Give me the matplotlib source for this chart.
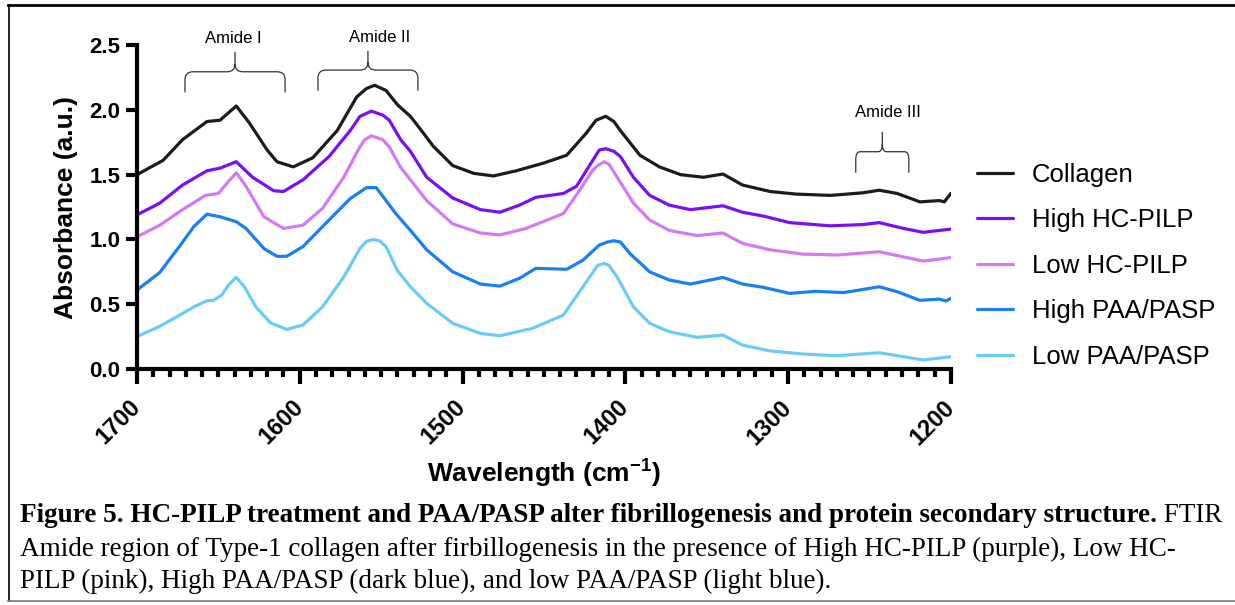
import matplotlib
matplotlib.use("Agg")
import matplotlib.pyplot as plt
from matplotlib.path import Path
from matplotlib.patches import PathPatch
from matplotlib.lines import Line2D
from matplotlib.ticker import MultipleLocator

plt.rcParams['font.family'] = ['Liberation Sans', 'DejaVu Sans']
plt.rcParams['mathtext.fontset'] = 'custom'
plt.rcParams['mathtext.rm'] = 'Liberation Sans'
plt.rcParams['mathtext.bf'] = 'Liberation Sans:bold'

# FTIR spectra (wavenumber in cm-1, absorbance in a.u.)
collagen_x = [1700, 1684, 1672, 1657, 1649, 1639, 1631, 1620, 1614, 1604, 1592, 1577, 1565, 1559, 1554,
              1547, 1540, 1532, 1524, 1518, 1506, 1493, 1481, 1467, 1450, 1436, 1424, 1418, 1412, 1407,
              1403, 1391, 1379, 1366, 1352, 1340, 1328, 1311, 1295, 1274, 1254, 1244, 1233, 1219, 1207,
              1204, 1200]
collagen_y = [1.50, 1.61, 1.77, 1.91, 1.92, 2.03, 1.90, 1.69, 1.60, 1.56, 1.63, 1.84, 2.10, 2.165, 2.19,
              2.15, 2.04, 1.95, 1.82, 1.72, 1.57, 1.51, 1.49, 1.53, 1.59, 1.65, 1.82, 1.92, 1.95, 1.91,
              1.84, 1.65, 1.56, 1.50, 1.48, 1.505, 1.42, 1.37, 1.35, 1.34, 1.36, 1.38, 1.355, 1.29, 1.30,
              1.29, 1.355]

high_hc_x = [1700, 1686, 1672, 1657, 1649, 1639, 1629, 1616, 1610, 1598, 1582, 1569, 1563, 1556, 1549,
             1545, 1538, 1532, 1522, 1506, 1489, 1477, 1465, 1455, 1438, 1430, 1421, 1416, 1412, 1407,
             1403, 1395, 1385, 1373, 1360, 1340, 1328, 1315, 1299, 1274, 1254, 1244, 1229, 1217, 1200]
high_hc_y = [1.19, 1.28, 1.42, 1.53, 1.55, 1.60, 1.48, 1.376, 1.37, 1.46, 1.64, 1.84, 1.95, 1.99, 1.96,
             1.92, 1.77, 1.68, 1.48, 1.32, 1.23, 1.21, 1.265, 1.325, 1.355, 1.41, 1.59, 1.69, 1.70, 1.68,
             1.64, 1.48, 1.34, 1.265, 1.23, 1.26, 1.21, 1.18, 1.13, 1.105, 1.115, 1.13, 1.085, 1.055, 1.08]

low_hc_x = [1700, 1686, 1672, 1658, 1650, 1645, 1639, 1633, 1622, 1610, 1598, 1586, 1573, 1563, 1560,
            1556, 1549, 1545, 1538, 1532, 1522, 1506, 1489, 1477, 1461, 1438, 1428, 1420, 1417, 1413,
            1410, 1405, 1395, 1385, 1373, 1356, 1340, 1328, 1311, 1291, 1270, 1244, 1229, 1217, 1200]
low_hc_y = [1.02, 1.11, 1.23, 1.34, 1.355, 1.43, 1.515, 1.41, 1.175, 1.085, 1.11, 1.24, 1.48, 1.715, 1.77,
            1.80, 1.77, 1.715, 1.555, 1.46, 1.30, 1.12, 1.05, 1.035, 1.085, 1.20, 1.38, 1.535, 1.57, 1.60,
            1.58, 1.48, 1.28, 1.15, 1.07, 1.03, 1.05, 0.97, 0.92, 0.887, 0.88, 0.905, 0.865, 0.833, 0.86]

high_paa_x = [1700, 1686, 1674, 1665, 1657, 1649, 1639, 1633, 1622, 1614, 1608, 1598, 1582, 1569,
              1559, 1553, 1541, 1532, 1522, 1506, 1489, 1477, 1465, 1455, 1436, 1426, 1416, 1411, 1407,
              1403, 1397, 1385, 1373, 1360, 1340, 1328, 1315, 1299, 1283, 1266, 1256, 1244, 1233, 1219,
              1207, 1203, 1200]
high_paa_y = [0.61, 0.745, 0.945, 1.10, 1.195, 1.175, 1.137, 1.085, 0.93, 0.87, 0.87, 0.945, 1.15, 1.315,
              1.40, 1.40, 1.20, 1.07, 0.92, 0.75, 0.656, 0.64, 0.70, 0.777, 0.77, 0.84, 0.957, 0.98, 0.99,
              0.98, 0.89, 0.75, 0.687, 0.656, 0.707, 0.656, 0.63, 0.584, 0.60, 0.59, 0.61, 0.635, 0.597, 0.53,
              0.54, 0.525, 0.545]

low_paa_x = [1700, 1686, 1676, 1665, 1657, 1653, 1648, 1643, 1639, 1634, 1627, 1618, 1608, 1598,
             1586, 1573, 1563, 1559, 1555, 1551, 1547, 1540, 1532, 1522, 1506, 1489, 1477, 1457, 1438,
             1426, 1417, 1413, 1410, 1405, 1395, 1385, 1373, 1356, 1340, 1328, 1311, 1291, 1270, 1244,
             1229, 1217, 1200]
low_paa_y = [0.25, 0.33, 0.40, 0.48, 0.527, 0.53, 0.57, 0.66, 0.707, 0.635, 0.48, 0.357, 0.306, 0.34,
             0.48, 0.71, 0.93, 0.985, 1.00, 0.99, 0.945, 0.76, 0.635, 0.507, 0.353, 0.275, 0.257, 0.314, 0.417,
             0.635, 0.80, 0.815, 0.80, 0.71, 0.48, 0.353, 0.288, 0.245, 0.262, 0.185, 0.14, 0.116, 0.103, 0.126,
             0.095, 0.07, 0.095]

labels = ["Collagen", "High HC-PILP", "Low HC-PILP", "High PAA/PASP", "Low PAA/PASP"]
colors = ["#1c1c1c", "#7a0ff2", "#d27bf3", "#1a7ff2", "#6ccbf6"]
x_ticks = [1700, 1600, 1500, 1400, 1300, 1200]
y_ticks = [0.0, 0.5, 1.0, 1.5, 2.0, 2.5]

series = [(collagen_x, collagen_y), (high_hc_x, high_hc_y), (low_hc_x, low_hc_y),
          (high_paa_x, high_paa_y), (low_paa_x, low_paa_y)]

fig = plt.figure(figsize=(12.35, 6.05), dpi=100)
ax = fig.add_axes([0.1109, 0.390, 0.659, 0.5355])

for (xs, ys), lab, col in zip(series, labels, colors):
    ax.plot(xs, ys, color=col, lw=2.3, label=lab, solid_joinstyle='round', solid_capstyle='round')

ax.set_xlim(1700, 1200)
ax.set_ylim(0, 2.5)
ax.set_xticks(x_ticks)
ax.set_yticks(y_ticks)
ax.xaxis.set_minor_locator(MultipleLocator(10))
ax.set_yticklabels([f"{v:.1f}" for v in y_ticks], fontsize=16, fontweight='bold')
ax.set_xticklabels([str(v) for v in x_ticks], fontsize=17, fontweight='bold',
                   rotation=45, ha='right', va='center', rotation_mode='anchor')

for side in ['top', 'right']:
    ax.spines[side].set_visible(False)
for side in ['left', 'bottom']:
    ax.spines[side].set_linewidth(3)
ax.tick_params(axis='both', which='major', width=3, length=8, direction='out')
ax.tick_params(axis='x', which='major', length=11, pad=14)
ax.tick_params(axis='x', which='minor', width=3, length=6)
ax.tick_params(axis='y', pad=4)

ax.set_ylabel("Absorbance (a.u.)", fontsize=19, fontweight='bold', labelpad=8)
ax.set_xlabel(r"Wavelength (cm$^{\mathbf{-1}}$)", fontsize=19, fontweight='bold', labelpad=5)

leg = ax.legend(loc='center left', bbox_to_anchor=(1.032, 0.319), frameon=False, fontsize=18.5,
                handlelength=1.4, handletextpad=0.75, labelspacing=0.84, borderpad=0, borderaxespad=0)
for h in leg.get_lines():
    h.set_linewidth(2.3)


def brace(x_left, x_right, y_end, y_bar, y_tip):
    xc = (x_left + x_right) / 2
    rx = (x_right - x_left) * 0.08
    ry = 0.06
    verts = [(x_left, y_end), (x_left, y_bar - ry), (x_left, y_bar), (x_left + rx, y_bar),
             (xc - rx, y_bar), (xc, y_bar), (xc, y_bar + ry), (xc, y_tip),
             (xc, y_bar + ry), (xc, y_bar), (xc + rx, y_bar), (x_right - rx, y_bar),
             (x_right, y_bar), (x_right, y_bar - ry), (x_right, y_end)]
    codes = [Path.MOVETO, Path.LINETO, Path.CURVE3, Path.CURVE3,
             Path.LINETO, Path.CURVE3, Path.CURVE3, Path.LINETO,
             Path.MOVETO, Path.CURVE3, Path.CURVE3, Path.LINETO,
             Path.CURVE3, Path.CURVE3, Path.LINETO]
    ax.add_patch(PathPatch(Path(verts, codes), fill=False, lw=0.9, edgecolor='#333333', clip_on=False))


brace(1670.5, 1609, 2.135, 2.294, 2.448)
brace(1588.8, 1527.4, 2.147, 2.307, 2.456)
brace(1258.4, 1225.8, 1.515, 1.677, 1.831)
ax.text(1641, 2.554, "Amide I", fontsize=12, ha='center', va='center', clip_on=False)
ax.text(1550.7, 2.562, "Amide II", fontsize=12, ha='center', va='center', clip_on=False)
ax.text(1238.7, 1.983, "Amide III", fontsize=12, ha='center', va='center', clip_on=False)

# caption
cap_font = ['Liberation Serif', 'DejaVu Serif']
cap_size = 19.5
bold_part = fig.text(0.0162, 1 - 522 / 605,
                     "Figure 5. HC-PILP treatment and PAA/PASP alter fibrillogenesis and protein secondary structure.",
                     fontsize=cap_size, fontweight='bold', family=cap_font, va='baseline')
ax.annotate(" FTIR", xy=(1, 0), xycoords=bold_part, xytext=(0, 0), textcoords='offset points',
            fontsize=cap_size, family=cap_font, va='bottom', ha='left', annotation_clip=False)
fig.text(0.0162, 1 - 556 / 605,
         "Amide region of Type-1 collagen after firbillogenesis in the presence of High HC-PILP (purple), Low HC-",
         fontsize=cap_size, family=cap_font, va='baseline')
fig.text(0.0162, 1 - 588 / 605,
         "PILP (pink), High PAA/PASP (dark blue), and low PAA/PASP (light blue).",
         fontsize=cap_size, family=cap_font, va='baseline')

# frame lines around the figure
fig.add_artist(Line2D([0.0065, 1.0], [1 - 5 / 605, 1 - 5 / 605], transform=fig.transFigure, color='black', lw=2))
fig.add_artist(Line2D([0.0073, 0.0073], [1 - 5 / 605, 1 - 601 / 605], transform=fig.transFigure, color='black', lw=1.2))
fig.add_artist(Line2D([0.0065, 1.0], [1 - 601 / 605, 1 - 601 / 605], transform=fig.transFigure, color='#777777', lw=1.2))

fig.savefig("out.png", dpi=100)
